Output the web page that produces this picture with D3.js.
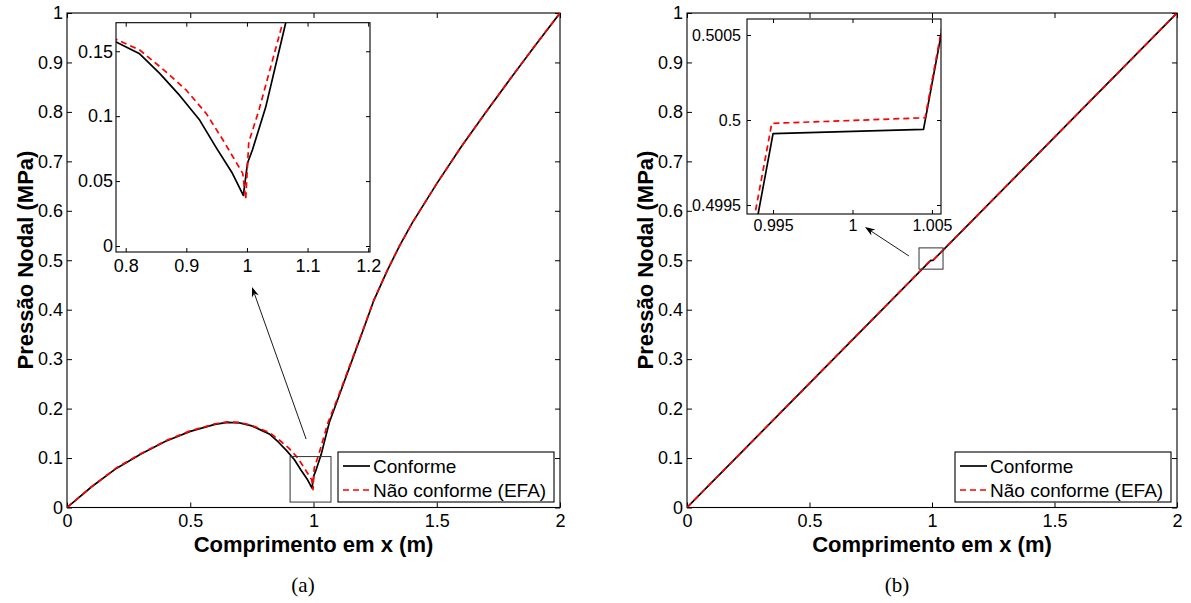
<!DOCTYPE html>
<html>
<head>
<meta charset="utf-8">
<script src="https://cdn.jsdelivr.net/npm/d3@7"></script>
<style>
	body { margin: 0; background: #fff; }
	svg { display: block; }
	text { font-family: "Liberation Sans", Arial, Helvetica, sans-serif; fill: #000; }
</style>
</head>
<body>
<svg id="fig" width="1191" height="603"></svg>
<script>

// ---- panel (a) : Conforme (solid black) ----
const aConfX = [0, 0.1, 0.2, 0.3, 0.4, 0.5, 0.6, 0.65, 0.7, 0.75, 0.785, 0.823, 0.856, 0.889, 0.922, 0.949, 0.976, 0.994,
	1.001, 1.009, 1.031, 1.064, 1.1, 1.15, 1.2, 1.245, 1.3, 1.35, 1.4, 1.5, 1.6, 1.7, 1.8, 1.9, 2.0];
const aConfY = [0, 0.042, 0.079, 0.108, 0.134, 0.154, 0.168, 0.172, 0.171, 0.165, 0.157, 0.148, 0.133, 0.116, 0.097, 0.076, 0.056, 0.039,
	0.064, 0.074, 0.107, 0.172, 0.221, 0.289, 0.357, 0.419, 0.48, 0.53, 0.575, 0.655, 0.73, 0.80, 0.868, 0.935, 1.0];

// ---- panel (a) : Não conforme (red dashed) ----
const aNcX = [0, 0.1, 0.2, 0.3, 0.4, 0.5, 0.6, 0.65, 0.7, 0.75, 0.785, 0.823, 0.867, 0.9, 0.933, 0.96, 0.993, 0.998,
	1.003, 1.02, 1.059, 1.1, 1.15, 1.2, 1.245, 1.3, 1.35, 1.4, 1.5, 1.6, 1.7, 1.8, 1.9, 2.0];
const aNcY = [0, 0.042, 0.08, 0.109, 0.135, 0.155, 0.169, 0.173, 0.172, 0.166, 0.159, 0.151, 0.134, 0.12, 0.102, 0.082, 0.056, 0.036,
	0.08, 0.105, 0.172, 0.224, 0.291, 0.358, 0.42, 0.48, 0.53, 0.575, 0.655, 0.73, 0.80, 0.868, 0.935, 1.0];

// ---- panel (b) ----
const bConfX = [0, 0.995, 1.00447, 2];
const bConfY = [0, 0.49992, 0.499945, 1];
const bNcX = [0, 0.99492, 1.00457, 2];
const bNcY = [0, 0.49998, 0.500013, 1];

// ticks
const mainXTicks = [0, 0.5, 1, 1.5, 2];
const mainYTicks = [0, 0.1, 0.2, 0.3, 0.4, 0.5, 0.6, 0.7, 0.8, 0.9, 1];
const aInsetXTicks = [0.8, 0.9, 1, 1.1, 1.2];
const aInsetYTicks = [0, 0.05, 0.1, 0.15];
const bInsetXTicks = [0.995, 1, 1.005];
const bInsetYTicks = [0.4995, 0.5, 0.5005];

// axis limits of the zoom insets
const aInsetXLim = [0.784, 1.203];
const aInsetYLim = [-0.0046, 0.172];
const bInsetXLim = [0.99336, 1.00557];
const bInsetYLim = [0.499447, 0.500594];

// zoom rectangles [x0, x1, y0, y1] and arrows [tail, head], in main data units
const aZoomBox = [0.905, 1.071, 0.011, 0.103];
const bZoomBox = [0.947, 1.045, 0.482, 0.525];
const aArrow = [[0.970, 0.1385], [0.7505, 0.446]];
const bArrow = [[0.906, 0.5086], [0.7265, 0.567]];

const legendNames = ["Conforme", "Não conforme (EFA)"];
const captions = ["(a)", "(b)"];

const svg = d3.select("#fig");
const fmt = d3.format("~g");

// draws box + inward ticks on four sides (matlab style)
function drawAxes(g, x, y, xt, yt, opt) {
	let [x0, x1] = x.range();
	let [y0, y1] = y.range();

	let bottom = g.append("g")
		.attr("transform", `translate(0,${y0})`)
		.call(d3.axisBottom(x).tickValues(xt).tickSize(-opt.tick).tickPadding(opt.padX).tickFormat(fmt));
	let left = g.append("g")
		.attr("transform", `translate(${x0},0)`)
		.call(d3.axisLeft(y).tickValues(yt).tickSize(-opt.tick).tickPadding(opt.padY).tickFormat(fmt));
	g.append("g")
		.attr("transform", `translate(0,${y1})`)
		.call(d3.axisTop(x).tickValues(xt).tickSize(-opt.tick).tickFormat(""));
	g.append("g")
		.attr("transform", `translate(${x1},0)`)
		.call(d3.axisRight(y).tickValues(yt).tickSize(-opt.tick).tickFormat(""));

	g.selectAll(".domain").remove();
	g.selectAll(".tick line").attr("stroke", "#000").attr("stroke-width", 1);
	[bottom, left].forEach(a => a.attr("font-size", opt.fs)
		.attr("font-family", '"Liberation Sans", Arial, sans-serif'));

	g.append("rect")
		.attr("x", x0).attr("y", y1)
		.attr("width", x1 - x0).attr("height", y0 - y1)
		.attr("fill", "none")
		.attr("stroke", "#000")
		.attr("stroke-width", 1.1);
}

function drawCurves(g, x, y, series, clipId) {
	let line = d3.line().x(d => x(d[0])).y(d => y(d[1]));
	let cg = g.append("g").attr("clip-path", `url(#${clipId})`);
	series.forEach(s => {
		cg.append("path")
			.datum(d3.zip(s.xs, s.ys))
			.attr("d", line)
			.attr("fill", "none")
			.attr("stroke", s.color)
			.attr("stroke-width", 1.7)
			.attr("stroke-dasharray", s.dash)
			.attr("stroke-linejoin", "round");
	});
}

function addClip(id, x, y) {
	svg.append("clipPath").attr("id", id)
		.append("rect")
		.attr("x", x.range()[0]).attr("y", y.range()[1])
		.attr("width", x.range()[1] - x.range()[0])
		.attr("height", y.range()[0] - y.range()[1]);
}

function drawPanel(p) {
	let g = svg.append("g");
	let x = d3.scaleLinear().domain([0, 2]).range(p.xRange);
	let y = d3.scaleLinear().domain([0, 1]).range([507.5, 13]);
	addClip(p.id + "main", x, y);

	let series = [
		{xs: p.confX, ys: p.confY, color: "#000", dash: null},
		{xs: p.ncX, ys: p.ncY, color: "#ff0000", dash: "6,4"}
	];

	drawAxes(g, x, y, mainXTicks, mainYTicks, {tick: 5, padX: 7, padY: 4, fs: 18});
	drawCurves(g, x, y, series, p.id + "main");

	// zoom region box
	let zb = p.zoomBox;
	g.append("rect")
		.attr("x", x(zb[0])).attr("y", y(zb[3]))
		.attr("width", x(zb[1]) - x(zb[0]))
		.attr("height", y(zb[2]) - y(zb[3]))
		.attr("fill", "none")
		.attr("stroke", "#333")
		.attr("stroke-width", 1);

	// arrow
	let [t, h] = p.arrow;
	let tx = x(t[0]), ty = y(t[1]), hx = x(h[0]), hy = y(h[1]);
	let ang = Math.atan2(hy - ty, hx - tx);
	let hl = 10, hw = 3.6;
	let bx = hx - hl * Math.cos(ang), by = hy - hl * Math.sin(ang);
	let nx = hx - hl * 0.7 * Math.cos(ang), ny = hy - hl * 0.7 * Math.sin(ang);
	g.append("line")
		.attr("x1", tx).attr("y1", ty).attr("x2", nx).attr("y2", ny)
		.attr("stroke", "#000").attr("stroke-width", 0.9);
	g.append("path")
		.attr("d", `M${hx},${hy}L${bx - hw * Math.sin(ang)},${by + hw * Math.cos(ang)}L${nx},${ny}L${bx + hw * Math.sin(ang)},${by - hw * Math.cos(ang)}Z`)
		.attr("fill", "#000");

	// legend
	let lx = x.range()[1] - 222, ly = 452;
	let lg = g.append("g").attr("transform", `translate(${lx},${ly})`);
	lg.append("rect")
		.attr("width", 216).attr("height", 50)
		.attr("fill", "#fff").attr("stroke", "#000").attr("stroke-width", 1.1);
	series.forEach((s, i) => {
		let yy = 14 + i * 24;
		lg.append("line")
			.attr("x1", 5).attr("x2", 32).attr("y1", yy).attr("y2", yy)
			.attr("stroke", s.color).attr("stroke-width", 1.7)
			.attr("stroke-dasharray", s.dash);
		lg.append("text")
			.attr("x", 35).attr("y", yy)
			.attr("dy", "0.35em")
			.attr("font-size", 19)
			.text(legendNames[i]);
	});

	// inset
	let ix = d3.scaleLinear().domain(p.insetXLim).range(p.insetXRange);
	let iy = d3.scaleLinear().domain(p.insetYLim).range(p.insetYRange);
	addClip(p.id + "inset", ix, iy);
	let ig = svg.append("g");
	ig.append("rect")
		.attr("x", ix.range()[0]).attr("y", iy.range()[1])
		.attr("width", ix.range()[1] - ix.range()[0])
		.attr("height", iy.range()[0] - iy.range()[1])
		.attr("fill", "#fff");
	drawCurves(ig, ix, iy, series, p.id + "inset");
	drawAxes(ig, ix, iy, p.insetXTicks, p.insetYTicks, p.insetOpt);

	// labels
	let cx = (x.range()[0] + x.range()[1]) / 2;
	svg.append("text")
		.attr("x", cx).attr("y", 552)
		.attr("text-anchor", "middle")
		.attr("font-size", 22).attr("font-weight", "bold")
		.text("Comprimento em x (m)");
	svg.append("text")
		.attr("transform", `translate(${p.yLabelX},260) rotate(-90)`)
		.attr("text-anchor", "middle")
		.attr("font-size", 22).attr("font-weight", "bold")
		.text("Pressão Nodal (MPa)");
	svg.append("text")
		.attr("x", p.captionX).attr("y", 592)
		.attr("text-anchor", "middle")
		.attr("font-size", 21)
		.style("font-family", '"Liberation Serif", "Times New Roman", serif')
		.text(p.caption);
}

drawPanel({
	id: "a", xRange: [67, 560],
	confX: aConfX, confY: aConfY, ncX: aNcX, ncY: aNcY,
	zoomBox: aZoomBox, arrow: aArrow,
	insetXLim: aInsetXLim, insetYLim: aInsetYLim,
	insetXRange: [116, 370], insetYRange: [252, 22.7],
	insetXTicks: aInsetXTicks, insetYTicks: aInsetYTicks,
	insetOpt: {tick: 4, padX: 7, padY: 3, fs: 18},
	yLabelX: 33, captionX: 303, caption: captions[0]
});

drawPanel({
	id: "b", xRange: [687, 1177],
	confX: bConfX, confY: bConfY, ncX: bNcX, ncY: bNcY,
	zoomBox: bZoomBox, arrow: bArrow,
	insetXLim: bInsetXLim, insetYLim: bInsetYLim,
	insetXRange: [747, 941], insetYRange: [214, 19],
	insetXTicks: bInsetXTicks, insetYTicks: bInsetYTicks,
	insetOpt: {tick: 4, padX: 6, padY: 6, fs: 16},
	yLabelX: 653, captionX: 897, caption: captions[1]
});

</script>
</body>
</html>
